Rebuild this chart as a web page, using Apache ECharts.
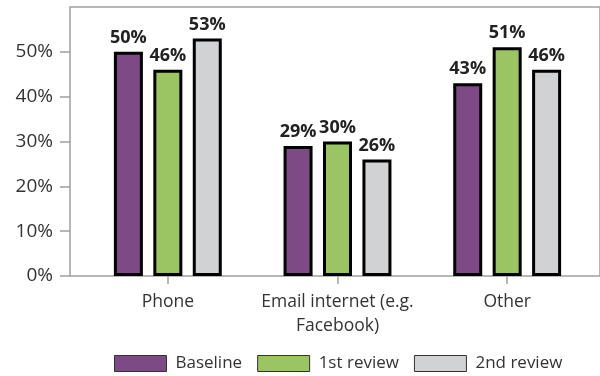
<!DOCTYPE html>
<html><head><meta charset="utf-8">
<script src="https://cdn.jsdelivr.net/npm/echarts@6/dist/echarts.min.js"></script>
<style>html,body{margin:0;padding:0;background:#fff}#c{width:600px;height:376px}</style>
</head><body><div id="c"></div>
<script>
const categories = ['Phone', 'Email internet (e.g.\nFacebook)', 'Other'];
const baseline = [50, 29, 43];
const review1 = [46, 30, 51];
const review2 = [53, 26, 46];
const yTicks = [0, 10, 20, 30, 40, 50];
const seriesNames = ['Baseline', '1st review', '2nd review'];
const colors = ['#7D4A85', '#9BC462', '#D1D2D4'];
const FONT = 'Open Sans';

const chart = echarts.init(document.getElementById('c'), null, {renderer: 'canvas'});
const mk = (name, data, color) => ({
  name, type: 'bar', data, xAxisIndex: 1, yAxisIndex: 1,
  barWidth: 29, barGap: '36%',
  itemStyle: {color, borderColor: '#000', borderWidth: 3},
  label: {show: true, position: 'top', distance: 5, formatter: '{c}%',
    fontFamily: FONT, fontWeight: 'bold', fontSize: 18, color: '#222'}
});
chart.setOption({
  animation: false,
  grid: [
    {show: true, left: 70, top: 7, right: -5, bottom: 100, borderColor: '#a0a0a0', borderWidth: 1.5, backgroundColor: 'transparent'},
    {left: 83, top: 7, right: 8, bottom: 100}
  ],
  xAxis: [
    {gridIndex: 0, type: 'value', show: false},
    {gridIndex: 1, type: 'category', data: categories,
      axisLine: {show: false},
      axisTick: {show: true, alignWithLabel: true, length: 8, lineStyle: {color: '#a0a0a0', width: 1.5}},
      axisLabel: {interval: 0, margin: 14, fontFamily: FONT, fontSize: 17.5, color: '#333', lineHeight: 24}}
  ],
  yAxis: [
    {gridIndex: 0, type: 'value', show: false},
    {gridIndex: 1, type: 'value', min: 0, max: 60, interval: 10, offset: 13,
      axisLine: {show: false},
      splitLine: {show: false},
      axisTick: {show: true, length: 10, customValues: yTicks, lineStyle: {color: '#a0a0a0', width: 1.5}},
      axisLabel: {customValues: yTicks, margin: 17, formatter: '{value}%', fontFamily: FONT, fontSize: 19, color: '#333'}}
  ],
  legend: {
    data: seriesNames, left: 109, top: 350, itemWidth: 52, itemHeight: 16, itemGap: 15,
    icon: 'rect',
    itemStyle: {borderWidth: 1, borderColor: '#333'},
    textStyle: {fontFamily: FONT, fontSize: 17, color: '#333', padding: [0, 0, 0, 4]}
  },
  series: [mk(seriesNames[0], baseline, colors[0]), mk(seriesNames[1], review1, colors[1]), mk(seriesNames[2], review2, colors[2])]
});
</script></body></html>
